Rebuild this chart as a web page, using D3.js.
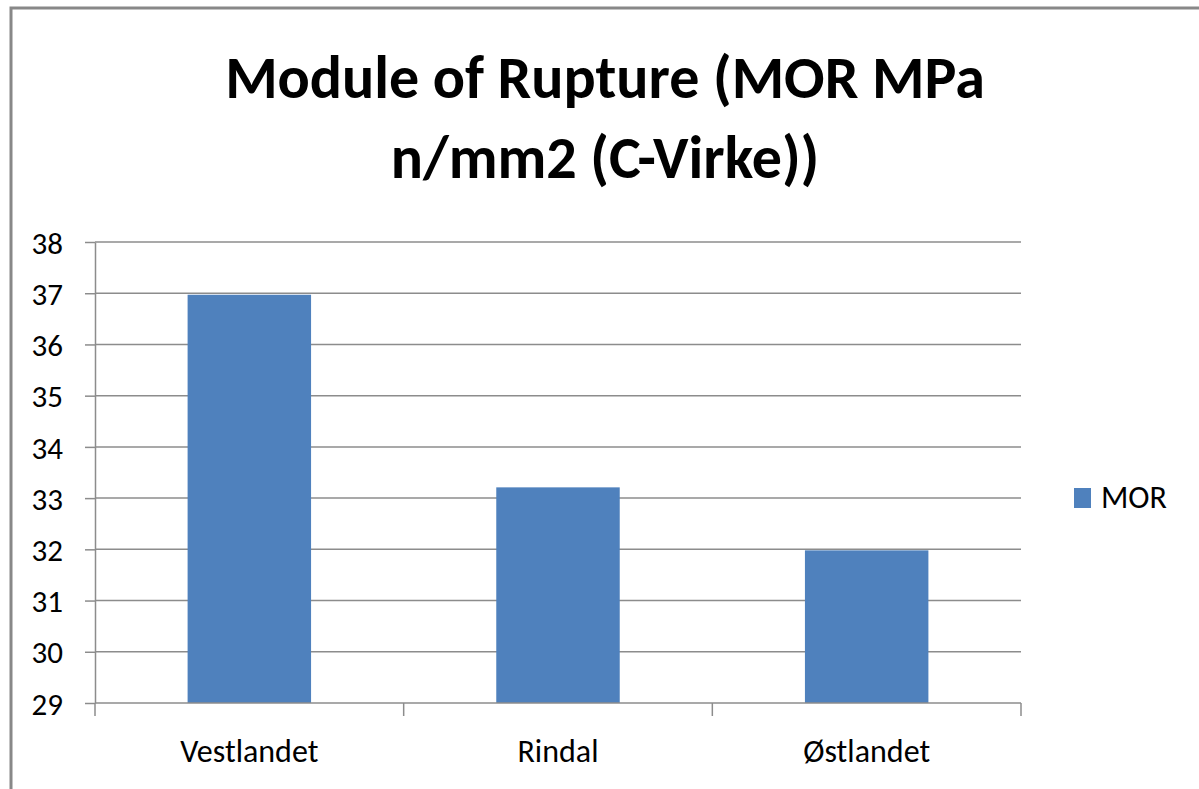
<!DOCTYPE html>
<html>
<head>
<meta charset="utf-8">
<script src="https://cdn.jsdelivr.net/npm/d3@7"></script>
<style>
  body { margin: 0; background: #fff; }
  text { font-family: 'Carlito', 'Open Sans', sans-serif; }
</style>
</head>
<body>
<div id="chart"></div>
<script>
// Data
const categories = ['Vestlandet', 'Rindal', 'Østlandet']
const values = [36.97, 33.21, 31.98]
const yTicks = [29, 30, 31, 32, 33, 34, 35, 36, 37, 38]
const seriesName = 'MOR'
const titleLines = ['Module of Rupture (MOR MPa', 'n/mm2 (C-Virke))']

// Settings
const width = 1199
const height = 789
const plot = { left: 95, right: 1021, top: 242, bottom: 703 }
const barColor = '#4F81BD'
const lineColor = '#8c8c8c'

const svg = d3.select('#chart').append('svg')
  .attr('width', width)
  .attr('height', height)

// Outer frame
svg.append('rect')
  .attr('x', 11)
  .attr('y', 8)
  .attr('width', width + 20)
  .attr('height', height + 20)
  .attr('fill', 'none')
  .attr('stroke', '#888')
  .attr('stroke-width', 3)

// Scales
const y = d3.scaleLinear()
  .domain([29, 38])
  .range([plot.bottom, plot.top])

const xCat = d3.scaleBand()
  .domain(categories)
  .range([plot.left, plot.right])

const xBar = d3.scaleBand()
  .domain(categories)
  .range([plot.left, plot.right])
  .paddingInner(0.6)
  .paddingOuter(0.3)

// Gridlines
svg.append('g')
  .selectAll('line')
  .data(yTicks.slice(1))
  .enter()
  .append('line')
  .attr('x1', plot.left)
  .attr('x2', plot.right)
  .attr('y1', d => y(d))
  .attr('y2', d => y(d))
  .attr('stroke', lineColor)
  .attr('stroke-width', 1.5)

// Bars
svg.append('g')
  .selectAll('rect')
  .data(values)
  .enter()
  .append('rect')
  .attr('x', (_, i) => xBar(categories[i]))
  .attr('y', d => y(d))
  .attr('width', xBar.bandwidth())
  .attr('height', d => y(29) - y(d))
  .attr('fill', barColor)

// Y axis
const yAxis = svg.append('g')
  .attr('transform', `translate(${plot.left},0)`)
  .call(d3.axisLeft(y).tickValues(yTicks).tickSize(10).tickPadding(22).tickSizeOuter(0))
yAxis.select('.domain').attr('stroke', lineColor).attr('stroke-width', 1.5)
yAxis.selectAll('.tick line').attr('stroke', lineColor).attr('stroke-width', 1.5)
yAxis.selectAll('.tick text')
  .attr('fill', '#000')
  .style('font-size', '31px')
  .attr('dy', '0.36em')

// X axis
const boundaries = categories.map(c => xCat(c)).concat([plot.right])
const xAxis = svg.append('g')
xAxis.append('line')
  .attr('x1', plot.left)
  .attr('x2', plot.right)
  .attr('y1', plot.bottom)
  .attr('y2', plot.bottom)
  .attr('stroke', lineColor)
  .attr('stroke-width', 1.5)
xAxis.selectAll('.xtick')
  .data(boundaries)
  .enter()
  .append('line')
  .attr('x1', d => d)
  .attr('x2', d => d)
  .attr('y1', plot.bottom)
  .attr('y2', plot.bottom + 13)
  .attr('stroke', lineColor)
  .attr('stroke-width', 1.5)
xAxis.selectAll('text')
  .data(categories)
  .enter()
  .append('text')
  .text(d => d)
  .attr('x', d => xCat(d) + xCat.bandwidth() / 2)
  .attr('y', 762)
  .attr('text-anchor', 'middle')
  .style('font-size', '32px')

// Title
svg.append('g')
  .selectAll('text')
  .data(titleLines)
  .enter()
  .append('text')
  .text(d => d)
  .attr('x', 605)
  .attr('y', (_, i) => 98 + i * 80)
  .attr('text-anchor', 'middle')
  .style('font-size', '60px')
  .style('font-weight', 'bold')

// Legend
const legend = svg.append('g')
legend.append('rect')
  .attr('x', 1074)
  .attr('y', 488)
  .attr('width', 17)
  .attr('height', 20)
  .attr('fill', barColor)
legend.append('text')
  .text(seriesName)
  .attr('x', 1101)
  .attr('y', 508)
  .style('font-size', '32px')
</script>
</body>
</html>
